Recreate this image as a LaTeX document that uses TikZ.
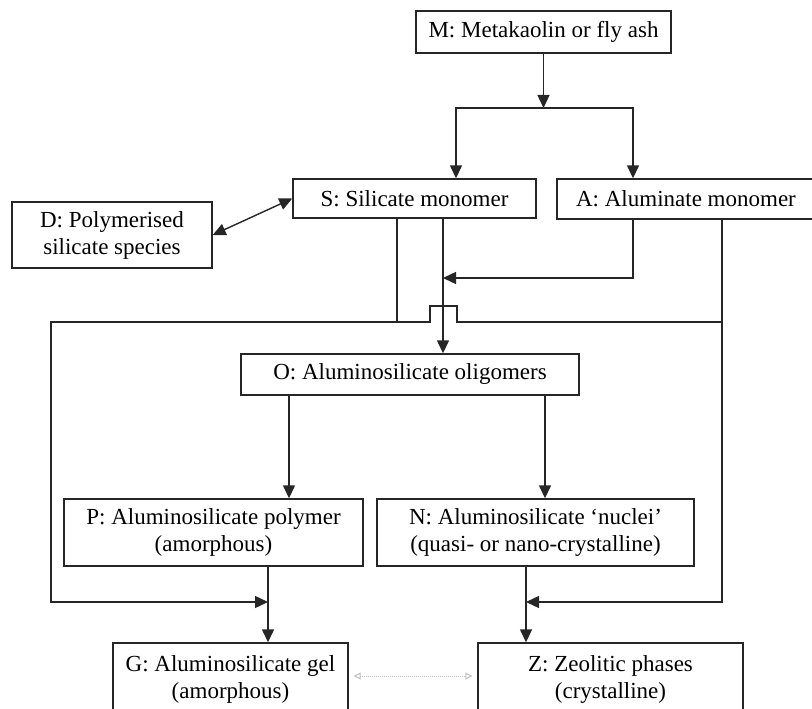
\documentclass[tikz,border=0pt]{standalone}
\usepackage{fontspec}
\setmainfont{Liberation Serif}
\usetikzlibrary{arrows.meta}

\begin{document}
\begin{tikzpicture}[x=1pt, y=-1pt,
    box/.style={draw=black!85, line width=1.4pt, inner sep=0pt, align=center,
        font=\fontsize{23}{27}\selectfont},
    wire/.style={draw=black!85, line width=1.4pt},
    arr/.style={wire, -{Triangle[length=13pt,width=12pt]}},
    dbl/.style={wire, {Triangle[length=13pt,width=12pt]}-{Triangle[length=13pt,width=12pt]}},
    faint/.style={draw=black!25, line width=1pt, densely dotted,
        {Triangle[open,length=7pt,width=7pt]}-{Triangle[open,length=7pt,width=7pt]}}]
  \useasboundingbox (0,0) rectangle (812,709);
  \clip (0,0) rectangle (812,709);
  % species
  \node[box, minimum width=255pt, minimum height=42pt] (M) at (543.5,32) {M: Metakaolin or fly ash};
  \node[box, minimum width=243pt, minimum height=39pt] (S) at (414.5,198.5) {S: Silicate monomer};
  \node[box, minimum width=258pt, minimum height=40pt] (A) at (686,199) {A: Aluminate monomer};
  \node[box, minimum width=200pt, minimum height=66pt] (D) at (112,235) {D: Polymerised\\silicate species};
  \node[box, minimum width=338pt, minimum height=41pt] (O) at (410,374.5) {O: Aluminosilicate oligomers};
  \node[box, minimum width=299pt, minimum height=67pt] (P) at (213.5,532.5) {P: Aluminosilicate polymer\\(amorphous)};
  \node[box, minimum width=317pt, minimum height=67pt] (N) at (535.5,532.5) {N: Aluminosilicate `nuclei'\\(quasi- or nano-crystalline)};
  \node[box, minimum width=235pt, minimum height=72pt] (G) at (230.5,679) {G: Aluminosilicate gel\\(amorphous)};
  \node[box, minimum width=265pt, minimum height=72pt] (Z) at (610.5,679) {Z: Zeolitic phases\\(crystalline)};
  % dissolution
  \coordinate (split) at (543.5,108);
  \draw[arr] (M) -- (split);
  \draw[arr] (split) -| ([xshift=41.5pt]S.north);
  \draw[arr] (split) -| ([xshift=-53pt]A.north);
  \draw[dbl] (D.east) -- (S.west);
  % monomers to oligomers
  \coordinate (s1) at ([xshift=28.5pt]S.south);
  \coordinate (a1) at ([xshift=-53pt]A.south);
  \draw[arr] (s1) -- (s1 |- O.north);
  \draw[arr] (a1) |- (s1 |- 0,278);
  % monomers straight to gel and zeolite
  \coordinate (s2) at ([xshift=-17.5pt]S.south);
  \coordinate (a2) at ([xshift=36pt]A.south);
  \coordinate (p1) at ([xshift=54.5pt]P.south);
  \coordinate (n1) at ([xshift=-9.5pt]N.south);
  \draw[wire] (s2) -- (s2 |- 0,322);
  \draw[arr] (a2) |- (457,322) -- (457,306) -- (430,306) -- (430,322)
    -- (51,322) -- (51,602) -- (p1 |- 0,602);
  \draw[arr] (a2) -- (a2 |- 0,602) -- (n1 |- 0,602);
  % oligomers to polymer and nuclei
  \coordinate (o1) at ([xshift=-121pt]O.south);
  \coordinate (o2) at ([xshift=135pt]O.south);
  \draw[arr] (o1) -- (o1 |- P.north);
  \draw[arr] (o2) -- (o2 |- N.north);
  % products
  \draw[arr] (p1) -- (p1 |- G.north);
  \draw[arr] (n1) -- (n1 |- Z.north);
  \draw[faint] ([xshift=5pt,yshift=3pt]G.east) -- ([xshift=-5pt,yshift=3pt]Z.west);
\end{tikzpicture}
\end{document}
